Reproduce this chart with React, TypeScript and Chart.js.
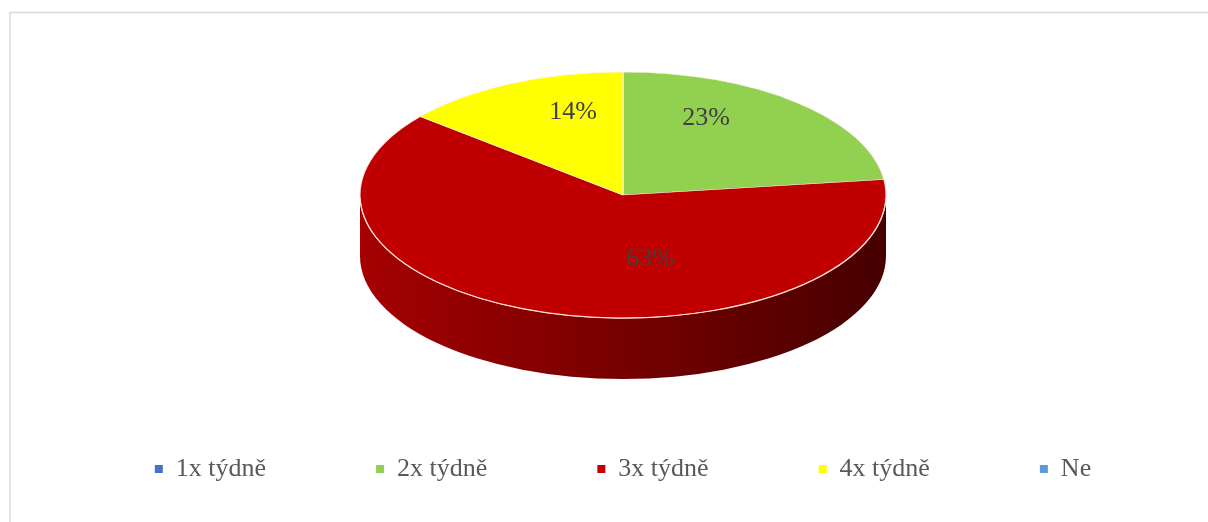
import { useEffect, useRef } from "react";
import { Chart, registerables } from "chart.js";

Chart.register(...registerables);

// ---- data ----
const categories = ["1x týdně", "2x týdně", "3x týdně", "4x týdně", "Ne"];
const shares = [0, 23, 63, 14, 0];
const sliceColors = ["#4472C4", "#92D050", "#C00000", "#FFFF00", "#5B9BD5"];

// ---- style for label placement (angle nudge in degrees, radial fraction) ----
const labelNudgeDeg = [0, -14.6, -27.4, 9.5, 0];
const labelRadial = [0.6, 0.7, 0.53, 0.7, 0.6];

const TILT = 0.468; // vertical squash of the pie top
const DEPTH = 61; // thickness of the pie side in px
const SERIF = "'Liberation Serif', 'Times New Roman', serif";

function shade(hex: string, f: number): string {
  const n = parseInt(hex.slice(1), 16);
  const r = Math.round(((n >> 16) & 255) * f);
  const g = Math.round(((n >> 8) & 255) * f);
  const b = Math.round((n & 255) * f);
  return `rgb(${r},${g},${b})`;
}

const pie3d = {
  id: "pie3d",
  beforeDraw(chart: any) {
    const ctx = chart.ctx;
    ctx.save();
    ctx.strokeStyle = "#d9d9d9";
    ctx.lineWidth = 1.5;
    ctx.strokeRect(10, 12.5, 1400, 700);
    ctx.restore();
  },
  beforeDatasetsDraw(chart: any) {
    const ctx = chart.ctx;
    const meta = chart.getDatasetMeta(0);
    const arcs = meta.data;
    if (!arcs.length) return;
    const cx = arcs[0].x;
    const cy = arcs[0].y;
    const r = arcs[0].outerRadius;
    const ry = r * TILT;
    arcs.forEach((arc: any, i: number) => {
      const s = arc.startAngle;
      const e = arc.endAngle;
      if (e - s <= 0) return;
      [0, 2 * Math.PI].forEach((off) => {
        const a0 = Math.max(s, off);
        const a1 = Math.min(e, off + Math.PI);
        if (a1 <= a0) return;
        const base = sliceColors[i];
        const grad = ctx.createLinearGradient(cx - r, 0, cx + r, 0);
        grad.addColorStop(0, shade(base, 0.86));
        grad.addColorStop(0.5, shade(base, 0.62));
        grad.addColorStop(1, shade(base, 0.37));
        ctx.save();
        ctx.beginPath();
        ctx.ellipse(cx, cy, r, ry, 0, a0, a1, false);
        ctx.ellipse(cx, cy + DEPTH, r, ry, 0, a1, a0, true);
        ctx.closePath();
        ctx.fillStyle = grad;
        ctx.fill();
        ctx.restore();
      });
    });
    ctx.save();
    ctx.translate(cx, cy);
    ctx.scale(1, TILT);
    ctx.translate(-cx, -cy);
  },
  afterDatasetsDraw(chart: any) {
    const ctx = chart.ctx;
    const meta = chart.getDatasetMeta(0);
    const arcs = meta.data;
    if (!arcs.length) return;
    ctx.restore();
    const cx = arcs[0].x;
    const cy = arcs[0].y;
    const r = arcs[0].outerRadius;
    const ry = r * TILT;
    // front rim highlight
    ctx.save();
    ctx.beginPath();
    ctx.ellipse(cx, cy, r, ry, 0, 0.03, Math.PI - 0.03, false);
    ctx.strokeStyle = "rgba(255,225,215,0.95)";
    ctx.lineWidth = 1.2;
    ctx.stroke();
    ctx.restore();
    // percentage labels
    const total = shares.reduce((a, b) => a + b, 0);
    ctx.save();
    ctx.font = `26px ${SERIF}`;
    ctx.fillStyle = "#404040";
    ctx.textAlign = "center";
    ctx.textBaseline = "middle";
    arcs.forEach((arc: any, i: number) => {
      if (!shares[i]) return;
      const mid = (arc.startAngle + arc.endAngle) / 2 + (labelNudgeDeg[i] * Math.PI) / 180;
      const f = labelRadial[i];
      const x = cx + f * r * Math.cos(mid);
      const y = cy + f * ry * Math.sin(mid);
      ctx.fillText(`${Math.round((shares[i] / total) * 100)}%`, x, y);
    });
    ctx.restore();
  },
};

export default function App() {
  const ref = useRef<HTMLCanvasElement | null>(null);
  useEffect(() => {
    if (!ref.current) return;
    const chart = new Chart(ref.current, {
      type: "pie",
      data: {
        labels: categories,
        datasets: [
          {
            data: shares,
            backgroundColor: sliceColors,
            borderColor: "rgba(255,240,235,0.85)",
            borderWidth: (c: any) => (c.raw === 0 ? 0 : 1.2),
            radius: 263,
            clip: false,
          } as any,
        ],
      },
      options: {
        responsive: false,
        animation: false,
        layout: { padding: { left: 38, right: 0, top: 44, bottom: 30 } },
        plugins: {
          tooltip: { enabled: false },
          legend: {
            position: "bottom",
            labels: {
              boxWidth: 8,
              boxHeight: 8,
              padding: 110,
              color: "#595959",
              font: { family: SERIF, size: 26 },
              generateLabels: (ch: any) => {
                const items = (Chart as any).overrides.pie.plugins.legend.labels.generateLabels(ch);
                return items.map((it: any) => ({ ...it, lineWidth: 0, strokeStyle: "transparent" }));
              },
            },
          },
        },
      },
      plugins: [pie3d],
    });
    return () => chart.destroy();
  }, []);
  return (
    <div style={{ position: "fixed", left: 0, top: 0, width: 1208, height: 522, background: "#fff" }}>
      <canvas ref={ref} width={1208} height={522} style={{ display: "block" }} />
    </div>
  );
}
